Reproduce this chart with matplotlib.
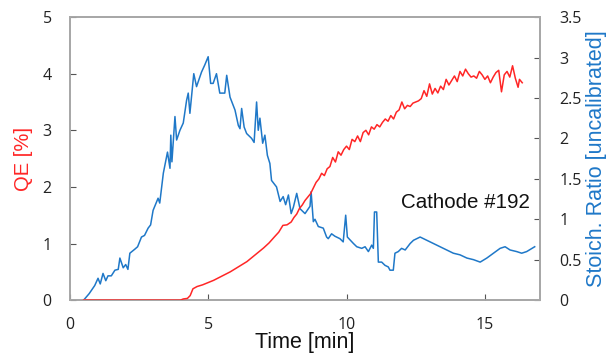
import matplotlib
matplotlib.use("Agg")
from matplotlib import pyplot as plt

# QE (left axis, red)
qe_t = [0.5, 4.0, 4.1, 4.25, 4.35, 4.45, 4.6, 4.8, 5.0, 5.2, 5.4, 5.6, 5.8, 6.0,
        6.2, 6.4, 6.6, 6.8, 7.0, 7.2, 7.4, 7.55, 7.7, 7.85, 8.0, 8.1, 8.2, 8.3,
        8.4, 8.5, 8.6, 8.7, 8.8, 8.9, 9.0, 9.1, 9.2, 9.3, 9.4, 9.5, 9.6, 9.7,
        9.8, 9.9, 10.0, 10.1, 10.2, 10.3, 10.4, 10.5, 10.6, 10.7, 10.8, 10.9,
        11.0, 11.1, 11.2, 11.3, 11.4, 11.5, 11.6, 11.7, 11.8, 11.9, 12.0, 12.1,
        12.2, 12.3, 12.4, 12.5, 12.6, 12.7, 12.8, 12.9, 13.0, 13.1, 13.2, 13.3,
        13.4, 13.5, 13.6, 13.7, 13.8, 13.9, 14.0, 14.1, 14.2, 14.3, 14.4, 14.5,
        14.6, 14.7, 14.8, 14.9, 15.0, 15.1, 15.2, 15.3, 15.4, 15.5, 15.6, 15.7,
        15.8, 15.9, 16.0, 16.1, 16.2, 16.25, 16.35]
qe = [0, 0, 0.02, 0.03, 0.08, 0.2, 0.24, 0.27, 0.31, 0.35, 0.40, 0.45, 0.50, 0.56,
      0.62, 0.68, 0.76, 0.84, 0.92, 1.01, 1.12, 1.2, 1.32, 1.33, 1.38, 1.46, 1.52, 1.62,
      1.68, 1.76, 1.82, 1.88, 1.98, 2.08, 2.14, 2.24, 2.2, 2.32, 2.36, 2.52, 2.44, 2.62,
      2.56, 2.66, 2.72, 2.66, 2.84, 2.8, 2.9, 2.8, 2.96, 3.0, 2.92, 3.06,
      3.02, 3.1, 3.06, 3.14, 3.2, 3.16, 3.26, 3.2, 3.32, 3.36, 3.5, 3.38,
      3.44, 3.42, 3.48, 3.5, 3.52, 3.56, 3.7, 3.6, 3.82, 3.64, 3.74, 3.66,
      3.78, 3.72, 3.9, 3.8, 3.88, 3.96, 3.86, 4.04, 3.96, 4.08, 4.0, 3.94,
      3.96, 3.92, 4.04, 3.98, 3.9, 3.96, 3.84, 3.94, 4.02, 4.06, 3.68, 3.98,
      4.04, 3.94, 4.14, 3.92, 3.76, 3.9, 3.84]

# Stoichiometric ratio (right axis, blue)
sr_t = [0, 0.5, 0.7, 0.9, 1.02, 1.1, 1.2, 1.3, 1.38, 1.5, 1.63, 1.75, 1.81, 1.93,
        2.02, 2.1, 2.17, 2.35, 2.45, 2.59, 2.7, 2.83, 2.92, 3.01, 3.19, 3.25, 3.38,
        3.53, 3.62, 3.65, 3.69, 3.8, 3.86, 3.98, 4.1, 4.22, 4.28, 4.34, 4.48, 4.58,
        4.76, 4.88, 5.0, 5.09, 5.18, 5.3, 5.42, 5.6, 5.67, 5.79, 5.97, 6.09, 6.15,
        6.21, 6.3, 6.39, 6.57, 6.66, 6.75, 6.81, 6.87, 6.97, 7.05, 7.14, 7.23, 7.29,
        7.47, 7.6, 7.71, 7.8, 7.9, 8.0, 8.08, 8.2, 8.32, 8.5, 8.68, 8.72, 8.8, 8.86,
        8.98, 9.16, 9.28, 9.34, 9.46, 9.58, 9.76, 9.88, 9.97, 10.03, 10.14, 10.25,
        10.37, 10.55, 10.67, 10.79, 10.91, 10.97, 11.01, 11.09, 11.15, 11.27, 11.39,
        11.51, 11.57, 11.69, 11.75, 11.87, 11.99, 12.12, 12.3, 12.42, 12.66, 12.78,
        12.9, 13.14, 13.38, 13.62, 13.86, 14.1, 14.35, 14.59, 14.83, 15.07, 15.31,
        15.55, 15.73, 15.91, 16.15, 16.33, 16.51, 16.7, 16.8]
sr = [0, 0, 0.08, 0.18, 0.27, 0.2, 0.33, 0.24, 0.3, 0.3, 0.37, 0.38, 0.52, 0.4,
      0.44, 0.38, 0.58, 0.63, 0.66, 0.78, 0.8, 0.89, 0.93, 1.11, 1.26, 1.2, 1.57,
      1.83, 1.63, 2.04, 1.71, 2.27, 1.98, 2.1, 2.19, 2.47, 2.56, 2.31, 2.8, 2.64,
      2.82, 2.91, 3.01, 2.68, 2.68, 2.8, 2.56, 2.56, 2.78, 2.51, 2.35, 2.16, 2.12,
      2.37, 2.14, 2.06, 2.0, 1.95, 2.45, 2.1, 2.25, 1.94, 2.04, 1.79, 1.69, 1.48,
      1.4, 1.22, 1.28, 1.18, 1.3, 1.07, 1.15, 1.32, 1.13, 1.07, 1.16, 1.34, 0.97, 1.0,
      0.91, 0.89, 0.78, 0.76, 0.82, 0.79, 0.76, 0.72, 1.05, 0.78, 0.74, 0.7,
      0.66, 0.64, 0.66, 0.6, 0.68, 0.64, 1.09, 1.09, 0.47, 0.47, 0.43,
      0.41, 0.37, 0.37, 0.58, 0.6, 0.64, 0.62, 0.7, 0.74, 0.78, 0.76,
      0.74, 0.7, 0.66, 0.62, 0.58, 0.56, 0.52, 0.5, 0.47, 0.52, 0.58,
      0.64, 0.66, 0.62, 0.6, 0.58, 0.6, 0.64, 0.66]

x_ticks = [0, 5, 10, 15]
qe_ticks = [0, 1, 2, 3, 4, 5]
sr_ticks = [0, 0.5, 1, 1.5, 2, 2.5, 3, 3.5]
sr_tick_labels = ["0", "0.5", "1", "1.5", "2", "2.5", "3", "3.5"]

red = "#ff2626"
blue = "#1f78c8"
grey = "#a8a8a8"
tick_font = "Open Sans"
label_font = "Liberation Sans"

fig = plt.figure(figsize=(6.07, 3.56), dpi=100)
ax = fig.add_axes([0.115, 0.157, 0.775, 0.795])
ax2 = ax.twinx()

ax.plot(qe_t, qe, color=red, linewidth=1.1, zorder=3)
ax2.plot(sr_t, sr, color=blue, linewidth=1.1)

ax.set_zorder(ax2.get_zorder() + 1)
ax.patch.set_visible(False)

ax.set_xlim(0, 17)
ax.set_ylim(0, 5)
ax2.set_ylim(0, 3.5)

ax.set_xticks(x_ticks)
ax.set_yticks(qe_ticks)
ax2.set_yticks(sr_ticks)
ax2.set_yticklabels(sr_tick_labels)

for a in (ax, ax2):
    for s in a.spines.values():
        s.set_color(grey)
        s.set_linewidth(1.3)
    for lab in a.get_xticklabels() + a.get_yticklabels():
        lab.set_fontfamily(tick_font)
        lab.set_fontsize(11.5)
        lab.set_color("#222222")

ax.tick_params(axis="x", direction="in", length=4, color="#555555", pad=12)
ax.tick_params(axis="y", direction="in", length=4, color="#555555", pad=13)
ax2.tick_params(axis="y", direction="in", length=4, color="#555555", pad=14)

ax.set_xlabel("Time [min]", fontsize=15.5, family=label_font, color="#111111")
ax.set_ylabel("QE [%]", fontsize=14.5, family=label_font, color=red)
ax2.set_ylabel("Stoich. Ratio [uncalibrated]", fontsize=15.5, family=label_font,
               color=blue)
ax.xaxis.set_label_coords(0.5, -0.113)
ax.yaxis.set_label_coords(-0.078, 0.5)
ax2.yaxis.set_label_coords(1.098, 0.5)

ax.text(0.979, 0.346, "Cathode #192", transform=ax.transAxes, ha="right",
        va="center", fontsize=14.8, family=label_font, color="#111111")

plt.savefig("out.png", dpi=100)
